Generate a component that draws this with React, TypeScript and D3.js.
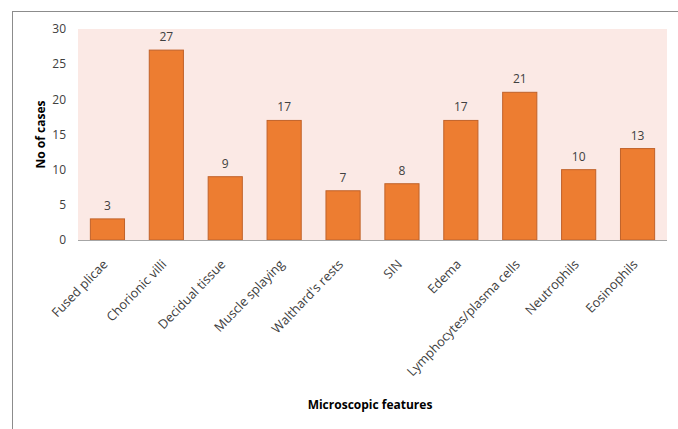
import React from "react";
import * as d3 from "d3";

const categories = ["Fused plicae", "Chorionic villi", "Decidual tissue", "Muscle splaying", "Walthard's rests", "SIN", "Edema", "Lymphocytes/plasma cells", "Neutrophils", "Eosinophils"];
const values = [3, 27, 9, 17, 7, 8, 17, 21, 10, 13];
const yTicks = [0, 5, 10, 15, 20, 25, 30];

export default function App() {
  const W = 678, H = 429;
  const left = 78, right = 667, top = 29, bottom = 240;
  const x = d3.scaleBand<string>().domain(categories).range([left, right]).paddingInner(0.42).paddingOuter(0.21);
  const y = d3.scaleLinear().domain([0, 30]).range([bottom, top]);
  const font = "'Open Sans', 'DejaVu Sans', sans-serif";
  return (
    <svg width={W} height={H} style={{ position: "absolute", left: 0, top: 0, background: "#fff" }} fontFamily={font}>
      <line x1={12} y1={11.5} x2={W} y2={11.5} stroke="#8c8c8c" />
      <line x1={12.5} y1={11} x2={12.5} y2={H} stroke="#8c8c8c" />
      <rect x={left} y={top} width={right - left} height={bottom - top} fill="#FBE9E5" />
      {yTicks.map(t => (
        <text key={t} x={left - 12} y={y(t)} dy="0.35em" textAnchor="end" fontSize={12} fill="#404040">{t}</text>
      ))}
      {categories.map((c, i) => (
        <g key={c}>
          <rect x={x(c)!} y={y(values[i])} width={x.bandwidth()} height={bottom - y(values[i])} fill="#ED7D31" stroke="#C0622A" strokeWidth={1} />
          <text x={x(c)! + x.bandwidth() / 2} y={y(values[i]) - 9} textAnchor="middle" fontSize={12} fill="#404040">{values[i]}</text>
          <text transform={`translate(${x(c)! + x.bandwidth() / 2 + 1},${bottom + 25}) rotate(-46)`} textAnchor="end" fontSize={12.8} fill="#404040">{c}</text>
        </g>
      ))}
      <line x1={left} y1={bottom + 0.5} x2={right} y2={bottom + 0.5} stroke="#A6A6A6" strokeWidth={1.2} />
      <text transform={`translate(45,${(top + bottom) / 2}) rotate(-90)`} textAnchor="middle" fontSize={12} fontWeight="bold" fill="#000">No of cases</text>
      <text x={370} y={409} textAnchor="middle" fontSize={12} fontWeight="bold" fill="#000">Microscopic  features</text>
    </svg>
  );
}
